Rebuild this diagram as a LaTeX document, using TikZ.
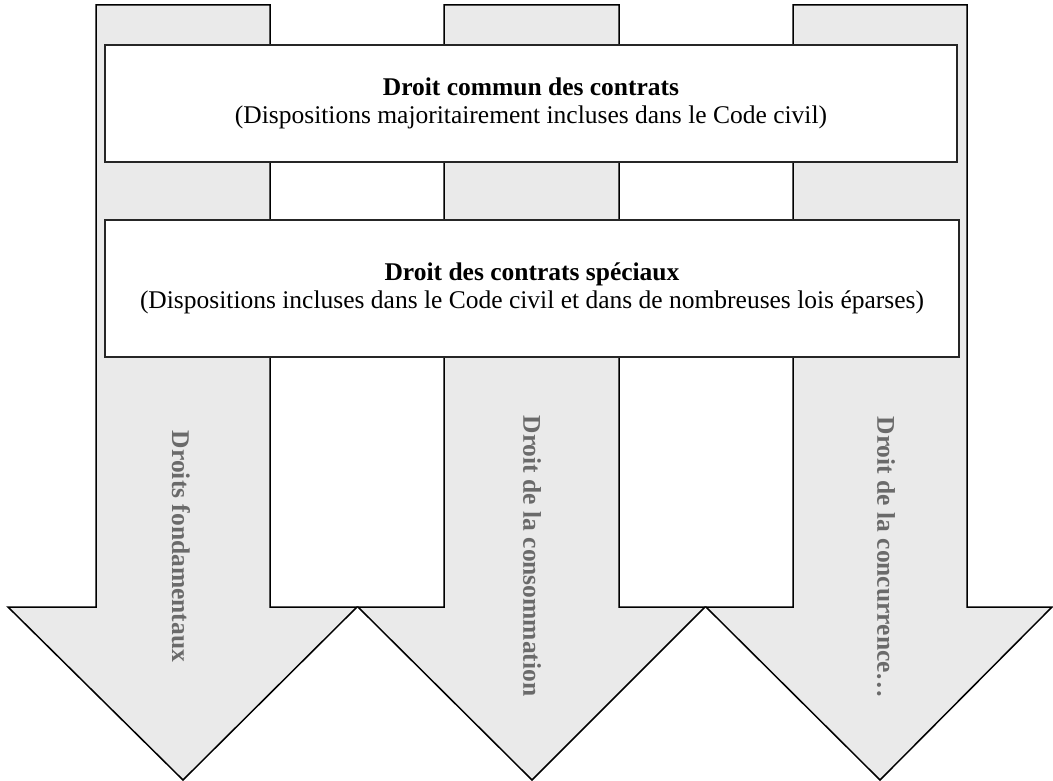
\documentclass[tikz,border=0pt]{standalone}
\usepackage{fontspec}
\setmainfont{Liberation Serif}
\usepackage{xcolor}
\usepackage{tikz}
\definecolor{fleche}{HTML}{EAEAEA}
\definecolor{textefleche}{HTML}{6A6A6A}
\tikzset{
	fleche/.style={draw=black,fill=fleche,line width=1.5pt,line join=miter},
	cadre/.style={draw=black!85,fill=white,line width=1.1pt,inner sep=0pt,align=center,font=\fontsize{25.5}{28}\selectfont},
	domaine/.style={rotate=-90,text=textefleche,font=\bfseries\fontsize{25.5}{28}\selectfont,inner sep=0pt}
}

\begin{document}
\begin{tikzpicture}[x=1pt,y=-1pt]
		\useasboundingbox (0,0) rectangle (1053,781);
		%
		\draw[fleche] (96,5) -- (270,5) -- (270,607) -- (357,607) -- (183,780) -- (8,607) -- (96,607) -- cycle;
		\draw[fleche] (444,5) -- (619,5) -- (619,607) -- (705,607) -- (532,780) -- (358,607) -- (444,607) -- cycle;
		\draw[fleche] (793,5) -- (967,5) -- (967,607) -- (1052,607) -- (880,780) -- (706,607) -- (793,607) -- cycle;
		%
		\node[cadre,minimum width=852pt,minimum height=117pt] (commun) at (531,103.5)
			{\textbf{Droit commun des contrats}\\(Dispositions majoritairement incluses dans le Code civil)};
		\node[cadre,minimum width=854pt,minimum height=137pt] (speciaux) at (532,288.5)
			{\textbf{Droit des contrats spéciaux}\\(Dispositions incluses dans le Code civil et dans de nombreuses lois éparses)};
		%
		\node[domaine] (fond) at (181,546.5) {Droits fondamentaux};
		\node[domaine] (conso) at (532,556) {Droit de la consommation};
		\node[domaine] (concu) at (886,557.5) {Droit de la concurrence\ldots};
		\end{tikzpicture}
\end{document}
